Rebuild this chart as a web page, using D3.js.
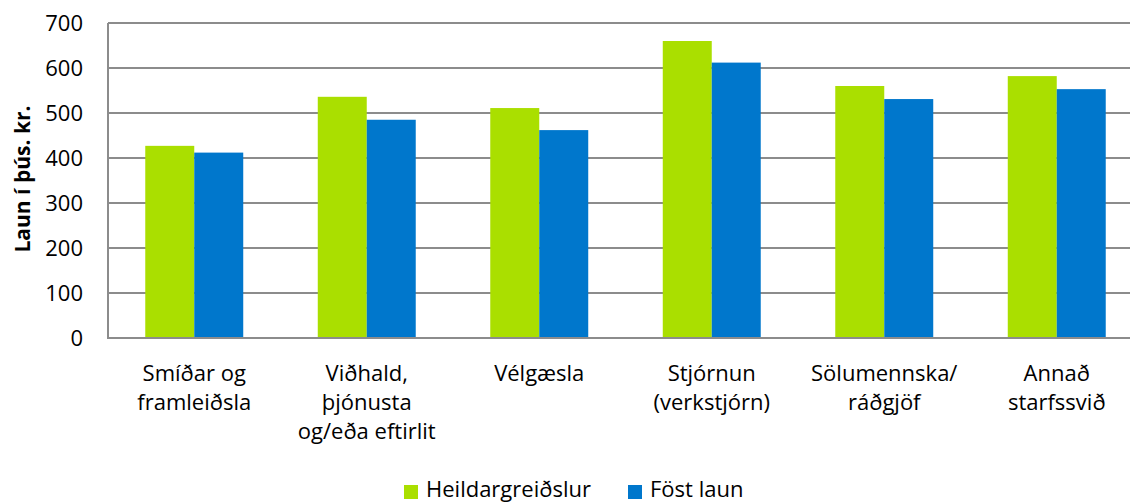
<!DOCTYPE html>
<html>
<head>
<meta charset="utf-8">
<script src="https://cdn.jsdelivr.net/npm/d3@7"></script>
<style>
  html, body { margin: 0; padding: 0; background: #fff; overflow: hidden; }
  svg { display: block; font-family: "Open Sans", Lato, sans-serif; }
</style>
</head>
<body>
<svg id="chart" width="1130" height="503"></svg>
<script>
// Starfssvið (job area) labels, split into lines
const categories = [
  ["Smíðar og", "framleiðsla"],
  ["Viðhald,", "þjónusta", "og/eða eftirlit"],
  ["Vélgæsla"],
  ["Stjórnun", "(verkstjórn)"],
  ["Sölumennska/", "ráðgjöf"],
  ["Annað", "starfssvið"]
];
const seriesNames = ["Heildargreiðslur", "Föst laun"];
const heildargreidslur = [427, 536, 511, 660, 560, 582];
const fostLaun = [412, 485, 462, 612, 531, 553];
const yTicks = [0, 100, 200, 300, 400, 500, 600, 700];
const colors = ["#aadf00", "#0077cc"];

const svg = d3.select("#chart");
const plot = { left: 108, right: 1143, top: 23, bottom: 338 };
const fontSize = 22;

const x = d3.scaleBand()
  .domain(d3.range(categories.length))
  .range([plot.left, plot.right])
  .paddingInner(0.432)
  .paddingOuter(0.216);
const xs = d3.scaleBand().domain([0, 1]).range([0, x.bandwidth()]);
const y = d3.scaleLinear().domain([0, 700]).range([plot.bottom, plot.top]);

// Horizontal gridlines
svg.append("g")
  .selectAll("line")
  .data(yTicks.filter(d => d > 0))
  .join("line")
  .attr("x1", plot.left).attr("x2", plot.right)
  .attr("y1", d => y(d)).attr("y2", d => y(d))
  .attr("stroke", "#8c8c8c").attr("stroke-width", 2);

// Y axis
const yAxis = svg.append("g")
  .attr("transform", `translate(${plot.left},0)`)
  .call(d3.axisLeft(y).tickValues(yTicks).tickSize(0).tickPadding(25));
yAxis.select(".domain").remove();
yAxis.selectAll("text")
  .attr("font-size", fontSize).attr("fill", "#000")
  .attr("font-family", "'Open Sans', sans-serif");

// Bars
const rows = categories.map((c, i) => [heildargreidslur[i], fostLaun[i]]);
svg.append("g")
  .selectAll("g")
  .data(rows)
  .join("g")
  .attr("transform", (d, i) => `translate(${x(i)},0)`)
  .selectAll("rect")
  .data(d => d)
  .join("rect")
  .attr("x", (d, j) => xs(j))
  .attr("width", xs.bandwidth())
  .attr("y", d => y(d))
  .attr("height", d => y(0) - y(d))
  .attr("fill", (d, j) => colors[j]);

// Axis lines
svg.append("line")
  .attr("x1", plot.left).attr("x2", plot.left)
  .attr("y1", plot.top).attr("y2", plot.bottom)
  .attr("stroke", "#8c8c8c").attr("stroke-width", 2);
svg.append("line")
  .attr("x1", plot.left - 1).attr("x2", plot.right)
  .attr("y1", plot.bottom).attr("y2", plot.bottom)
  .attr("stroke", "#8c8c8c").attr("stroke-width", 2);

// Category labels
const xl = svg.append("g");
categories.forEach((lines, i) => {
  const t = xl.append("text")
    .attr("text-anchor", "middle")
    .attr("font-size", fontSize)
    .attr("fill", "#000");
  lines.forEach((s, k) => {
    t.append("tspan")
      .attr("x", x(i) + x.bandwidth() / 2)
      .attr("y", 381 + k * 29)
      .text(s);
  });
});

// Y axis title
svg.append("text")
  .attr("transform", "translate(30,179) rotate(-90)")
  .attr("text-anchor", "middle")
  .attr("font-size", 21)
  .attr("font-weight", "bold")
  .attr("fill", "#000")
  .text("Laun í þús. kr.");

// Legend
const legendItems = [{ x: 404 }, { x: 628 }];
const lg = svg.append("g");
seriesNames.forEach((name, j) => {
  lg.append("rect")
    .attr("x", legendItems[j].x).attr("y", 485)
    .attr("width", 14).attr("height", 14)
    .attr("fill", colors[j]);
  lg.append("text")
    .attr("x", legendItems[j].x + 22).attr("y", 497)
    .attr("font-size", fontSize).attr("fill", "#000")
    .text(name);
});
</script>
</body>
</html>
